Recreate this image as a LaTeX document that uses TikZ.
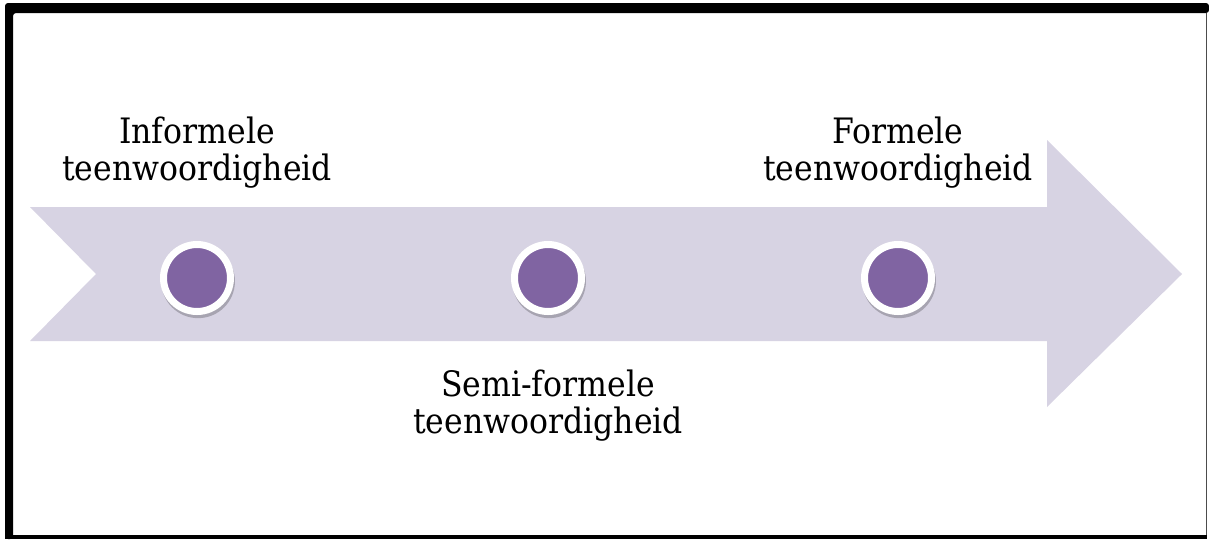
\documentclass[tikz,border=0pt]{standalone}
\usepackage{fontspec}
\setmainfont{DejaVu Serif Condensed}
\usepackage{tikz}
\usetikzlibrary{shapes,shadows,positioning}
\definecolor{arrowlav}{RGB}{215,211,227}
\definecolor{dotpurple}{RGB}{128,100,162}
\tikzstyle{dot} = [circle, fill=dotpurple, draw=white, line width=7pt,
minimum size=67pt, inner sep=0pt,
general shadow={fill=black, opacity=.22, shadow scale=1.1, shadow yshift=-3pt, shadow xshift=1pt}]
\tikzstyle{label} = [text width=300pt, align=center, inner sep=0pt,
font=\fontsize{35}{37}\selectfont]
\tikzstyle{frame} = [fill=black]

\begin{document}
\begin{tikzpicture}[x=1pt,y=-1pt]
	\useasboundingbox (0,0) rectangle (1209,539);
	% Frame
	\fill [frame, rounded corners=3pt] (5,539) -- (5,3) -- (1209,3) -- (1209,13) -- (13,13) -- (13,539) -- cycle;
	\fill [frame] (5,535) rectangle (1207,539);
	\draw [gray!60!black, line width=1.5pt] (1206.5,13) -- (1206.5,535);
	% Arrow
	\fill [arrowlav] (30,207) -- (1047,207) -- (1047,140) -- (1182,274) -- (1047,407) -- (1047,341) -- (30,341) -- (96,274) -- cycle;
	% Place nodes
	\node [dot] (informal) at (197,278) {};
	\node [dot, right of=informal, node distance=351pt] (semiformal) {};
	\node [dot, right of=semiformal, node distance=350pt] (formal) {};
	% Labels
	\node [label, above of=informal, node distance=125pt] (informalText) {Informele\\teenwoordigheid};
	\node [label, below of=semiformal, node distance=128pt] (semiformalText) {Semi-formele\\teenwoordigheid};
	\node [label, above of=formal, node distance=125pt] (formalText) {Formele\\teenwoordigheid};
\end{tikzpicture}
\end{document}
